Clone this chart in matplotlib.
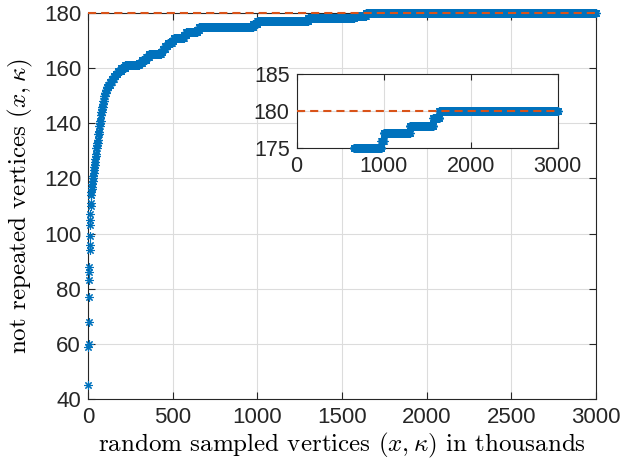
import numpy as np
import matplotlib
matplotlib.use("Agg")
import matplotlib.pyplot as plt

plt.rcParams['font.family'] = ['Liberation Sans', 'DejaVu Sans']
plt.rcParams['mathtext.fontset'] = 'cm'

# staircase: x (thousands) where each level begins, and the level
level_start = [1, 2, 3, 4, 5, 6, 7, 8, 9, 10, 11, 12, 13, 14, 15, 16, 17, 19, 21, 23,
               25, 27, 29, 31, 33, 35, 37, 39, 41, 43, 45, 47, 49, 52, 54, 57, 60, 63, 66, 69,
               72, 75, 78, 81, 84, 87, 91, 95, 99, 105, 112, 120, 130, 140, 152, 163, 175, 195, 220, 300,
               318, 345, 360, 430, 440, 455, 470, 495, 505, 565, 580, 645, 655, 975, 1000, 1300, 1570, 1640]
level_value = [45, 59, 60, 68, 77, 83, 86, 88, 94, 96, 99, 103, 105, 107, 110, 111, 114, 115, 116, 117,
               118, 119, 120, 121, 122, 123, 124, 125, 126, 127, 128, 129, 131, 132, 133, 134, 136, 137, 139, 140,
               141, 143, 144, 145, 146, 147, 148, 150, 151, 152, 153, 154, 155, 156, 157, 158, 159, 160, 161, 162,
               163, 164, 165, 166, 167, 168, 169, 170, 171, 172, 173, 174, 175, 176, 177, 178, 179, 180]
n_samples = 3000
max_vertices = 180

blue = '#0072BD'
orange = '#D95319'

x = np.arange(1, n_samples + 1)
idx = np.searchsorted(level_start, x, side='right') - 1
y = np.array(level_value)[idx]

fig = plt.figure(figsize=(6.31, 4.62), dpi=100)
ax = fig.add_axes([0.1395, 0.1364, 0.805, 0.8355])

star = (8, 2, 0)
ax.plot(x, y, linestyle='none', marker=star, markersize=6, markeredgewidth=0.8,
        color=blue, clip_on=False, zorder=3)
ax.plot([0, n_samples], [max_vertices, max_vertices], color=orange, linewidth=1.5,
        dashes=(3.9, 2.4), clip_on=False, zorder=4)

ax.set_xlim(0, 3000)
ax.set_ylim(40, 180)
ax.set_xticks(np.arange(0, 3001, 500))
ax.set_yticks(np.arange(40, 181, 20))
ax.grid(True, color='#dcdcdc', linewidth=0.8)
ax.set_axisbelow(True)
ax.tick_params(direction='in', top=True, right=True, labelsize=16, colors='#262626', length=5)
ax.tick_params(axis='y', pad=5)
ax.tick_params(axis='x', pad=6)
for s in ax.spines.values():
    s.set_color('#262626')
    s.set_linewidth(0.8)
ax.set_xlabel(r'random sampled vertices $(x,\kappa)$ in thousands', fontname='cmr10',
              fontsize=18, labelpad=2)
ax.set_ylabel(r'not repeated vertices $(x,\kappa)$', fontname='cmr10', fontsize=18, labelpad=6)

# inset zoom on the top
ins = fig.add_axes([0.470, 0.6797, 0.414, 0.160])
keep = y >= 175
ins.plot(x[keep], y[keep], linestyle='none', marker=star, markersize=6, markeredgewidth=0.8,
         color=blue, clip_on=False, zorder=3)
ins.plot([0, n_samples], [max_vertices, max_vertices], color=orange, linewidth=1.5,
         dashes=(3.9, 2.4), zorder=4)
ins.set_xlim(0, 3000)
ins.set_ylim(175, 185)
ins.set_xticks([0, 1000, 2000, 3000])
ins.set_yticks([175, 180, 185])
ins.grid(True, color='#dcdcdc', linewidth=0.8)
ins.set_axisbelow(True)
ins.tick_params(direction='in', top=True, right=True, labelsize=15.5, colors='#262626', length=4)
ins.tick_params(axis='x', pad=6)
ins.tick_params(axis='y', pad=5)
for s in ins.spines.values():
    s.set_color('#262626')
    s.set_linewidth(0.8)

fig.savefig('out.png', dpi=100)
